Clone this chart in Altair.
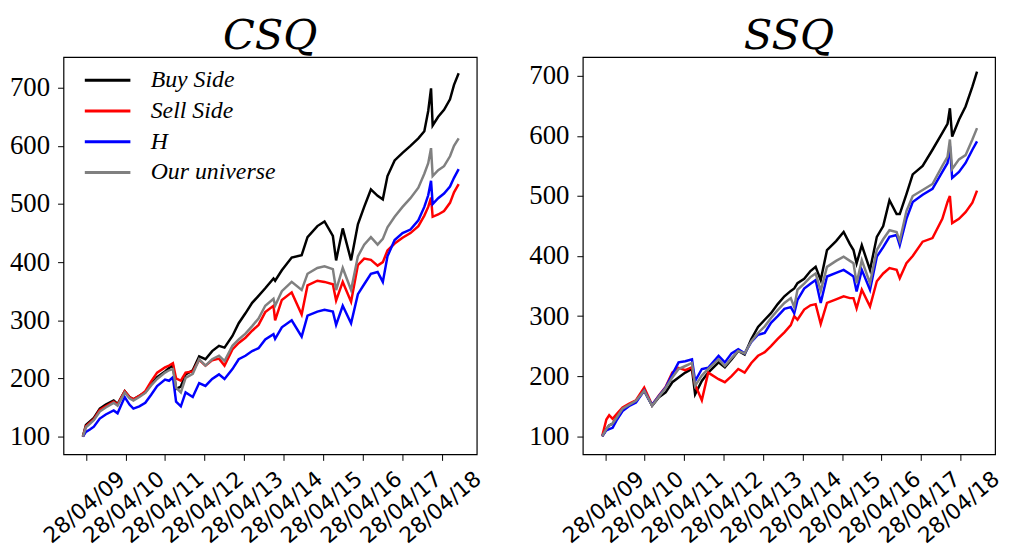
import altair as alt
import pandas as pd

series_names = ["Buy Side", "Sell Side", "H", "Our universe"]
series_colors = ["#000000", "#ff0000", "#0000ff", "#808080"]

# ---- CSQ panel ----
csq_dates = [
    "2009-03-31", "2009-04-28", "2009-06-04", "2009-07-10", "2009-09-03", "2009-10-28",
    "2010-01-09", "2010-02-14", "2010-04-21", "2010-06-04", "2010-07-10", "2010-09-03",
    "2010-10-28", "2010-12-21", "2011-02-14", "2011-04-28", "2011-06-04", "2011-07-10",
    "2011-08-08", "2011-09-21", "2011-11-04", "2012-01-09", "2012-03-08", "2012-05-05",
    "2012-07-06", "2012-09-07", "2012-10-28", "2013-01-09", "2013-03-08", "2013-05-09",
    "2013-07-10", "2013-09-07", "2013-11-08", "2014-01-23", "2014-02-07", "2014-04-10",
    "2014-07-10", "2014-10-10", "2014-12-03", "2015-03-04", "2015-05-09", "2015-07-25",
    "2015-08-24", "2015-10-24", "2016-01-09", "2016-03-12", "2016-05-09", "2016-07-10",
    "2016-09-10", "2016-10-28", "2016-12-10", "2017-02-14", "2017-04-28", "2017-07-10",
    "2017-09-21", "2017-11-15", "2017-12-21", "2018-01-16", "2018-01-31", "2018-03-23",
    "2018-05-16", "2018-07-10", "2018-08-16", "2018-09-28",
]
csq_buy = [100, 120, 126, 132, 148, 155, 162, 156, 178, 168, 164, 170, 176, 190, 202, 212,
           218, 222, 182, 186, 207, 214, 238, 233, 247, 256, 253, 273, 295, 312, 330, 342,
           355, 372, 368, 386, 408, 412, 443, 462, 470, 445, 403, 458, 403, 465, 495, 525,
           514, 508, 548, 575, 588, 600, 613, 625, 660, 699, 635, 650, 662, 680, 705, 725]
csq_sell = [100, 118, 124, 130, 146, 152, 160, 155, 178, 168, 164, 170, 178, 195, 210, 219,
            222, 226, 200, 196, 210, 212, 232, 222, 231, 234, 222, 250, 261, 270, 282, 292,
            314, 325, 300, 335, 348, 310, 360, 368, 366, 362, 334, 366, 332, 395, 406, 404,
            394, 400, 420, 432, 442, 450, 462, 480, 495, 511, 478, 482, 488, 502, 520, 534]
csq_h = [100, 108, 112, 117, 131, 138, 145, 140, 168, 155, 148, 152, 158, 172, 187, 198,
         196, 202, 160, 152, 176, 168, 192, 187, 199, 207, 199, 216, 233, 239, 247, 252,
         267, 276, 268, 288, 300, 272, 308, 315, 318, 315, 292, 325, 295, 345, 362, 380,
         383, 366, 410, 438, 450, 456, 472, 495, 515, 540, 500, 510, 518, 530, 545, 560]
csq_univ = [100, 116, 122, 128, 143, 150, 158, 153, 176, 166, 162, 168, 175, 188, 199, 210,
            214, 216, 184, 176, 201, 208, 233, 222, 233, 239, 230, 256, 267, 277, 290, 303,
            325, 337, 325, 350, 366, 352, 380, 390, 393, 388, 352, 390, 352, 410, 430, 443,
            430, 440, 460, 478, 495, 510, 528, 552, 570, 596, 548, 558, 565, 582, 600, 613]

# ---- SSQ panel ----
ssq_dates = [
    "2009-03-31", "2009-05-09", "2009-06-04", "2009-07-06", "2009-08-16", "2009-10-06",
    "2009-12-03", "2010-02-07", "2010-04-24", "2010-06-04", "2010-07-06", "2010-09-07",
    "2010-11-08", "2011-01-09", "2011-03-08", "2011-05-09", "2011-07-10", "2011-08-08",
    "2011-10-09", "2011-12-07", "2012-03-12", "2012-05-09", "2012-07-10", "2012-09-10",
    "2012-11-08", "2013-01-09", "2013-03-12", "2013-05-13", "2013-07-10", "2013-09-10",
    "2013-11-11", "2014-01-09", "2014-02-10", "2014-03-12", "2014-05-13", "2014-07-10",
    "2014-08-27", "2014-10-13", "2014-12-10", "2015-03-04", "2015-05-13", "2015-07-10",
    "2015-08-12", "2015-09-10", "2015-10-28", "2016-01-12", "2016-03-15", "2016-05-13",
    "2016-07-10", "2016-09-14", "2016-10-13", "2016-12-14", "2017-02-10", "2017-05-13",
    "2017-08-12", "2017-11-11", "2017-12-29", "2018-01-20", "2018-02-10", "2018-04-14",
    "2018-06-14", "2018-08-16", "2018-09-28",
]
ssq_buy = [100, 112, 118, 121, 132, 146, 152, 159, 176, 162, 151, 165, 173, 190, 198, 206,
           212, 170, 192, 206, 223, 215, 228, 242, 236, 262, 282, 294, 305, 320, 333, 342,
           346, 355, 362, 375, 382, 360, 410, 425, 440, 420, 410, 388, 418, 377, 432, 450,
           493, 470, 470, 503, 536, 550, 577, 605, 620, 646, 599, 627, 649, 682, 707]
ssq_sell = [100, 128, 135, 129, 138, 148, 154, 160, 181, 165, 152, 168, 182, 206, 214, 210,
            215, 186, 160, 206, 195, 190, 200, 212, 206, 222, 234, 240, 250, 262, 273, 285,
            300, 294, 311, 318, 320, 287, 322, 328, 333, 330, 330, 313, 344, 316, 358, 371,
            380, 377, 363, 388, 400, 424, 430, 462, 490, 500, 455, 462, 473, 489, 509]
ssq_h = [100, 110, 112, 114, 128, 142, 150, 156, 176, 162, 152, 167, 181, 203, 223, 225,
         228, 192, 212, 214, 234, 223, 238, 245, 238, 257, 269, 272, 289, 300, 312, 315,
         305, 327, 346, 354, 360, 322, 366, 372, 377, 370, 366, 341, 377, 344, 399, 415,
         432, 435, 418, 462, 490, 502, 512, 540, 555, 583, 530, 540, 555, 577, 591]
ssq_univ = [100, 112, 118, 121, 132, 146, 152, 159, 176, 162, 151, 166, 180, 198, 212, 217,
            222, 184, 201, 212, 228, 217, 230, 242, 238, 258, 272, 283, 297, 310, 322, 330,
            315, 344, 354, 365, 371, 342, 382, 392, 399, 392, 388, 355, 393, 355, 410, 428,
            443, 440, 425, 475, 500, 510, 520, 550, 565, 594, 545, 561, 568, 594, 613]

x_tick_years = [2009, 2010, 2011, 2012, 2013, 2014, 2015, 2016, 2017, 2018]
y_ticks = [100, 200, 300, 400, 500, 600, 700]

SERIF = "Liberation Serif"
TITLE_FONT = "DejaVu Serif"
SANS = "DejaVu Sans"


def panel_frame(dates, buy, sell, h, univ):
    rows = []
    for name, vals in zip(series_names, [buy, sell, h, univ]):
        for d, v in zip(dates, vals):
            rows.append({"date": d, "value": v, "series": name})
    return pd.DataFrame(rows)


def panel(df, title, ydomain, width):
    base = alt.Chart(df).mark_line(strokeWidth=2.5, clip=True).encode(
        x=alt.X(
            "date:T",
            title=None,
            scale=alt.Scale(domain=[alt.DateTime(year=2008, month=10, date=3),
                                    alt.DateTime(year=2019, month=3, date=14)]),
            axis=alt.Axis(
                values=[alt.DateTime(year=y, month=4, date=28) for y in x_tick_years],
                format="%d/%m/%y", labelAngle=320, labelAlign="center",
                labelBaseline="middle", labelPadding=47, labelOffset=-2,
                labelFont=SANS, labelFontSize=22, labelColor="black",
                labelOverlap=False, labelFlush=False, labelBound=False,
                tickSize=6, tickColor="black", grid=False, domain=False,
            ),
        ),
        y=alt.Y(
            "value:Q",
            title=None,
            scale=alt.Scale(domain=ydomain, nice=False, zero=False),
            axis=alt.Axis(
                values=y_ticks, labelFont=SERIF, labelFontSize=27, labelColor="black",
                labelPadding=8, tickSize=6, tickColor="black", grid=False, domain=False,
            ),
        ),
        color=alt.Color(
            "series:N",
            scale=alt.Scale(domain=series_names, range=series_colors),
            legend=alt.Legend(
                title=None, orient="none", legendX=20, legendY=8,
                symbolType="stroke", symbolSize=2116, symbolStrokeWidth=3,
                labelFont=SERIF, labelFontStyle="italic", labelFontSize=24,
                labelColor="black", labelOffset=19, clipHeight=31, rowPadding=0,
                padding=0, symbolOffset=0,
            ),
        ),
    )
    layers = [base.transform_filter(alt.datum.series == n) for n in series_names]
    return alt.layer(*layers).properties(
        width=width, height=401,
        title=alt.Title(title, font=TITLE_FONT, fontSize=42, fontStyle="italic",
                        fontWeight="normal", color="black", anchor="middle", offset=-1),
    )


left = panel(panel_frame(csq_dates, csq_buy, csq_sell, csq_h, csq_univ), "CSQ", [69.3, 752.8], 417)
right = panel(panel_frame(ssq_dates, ssq_buy, ssq_sell, ssq_h, ssq_univ), "SSQ", [69.8, 731.4], 416)

chart = alt.hconcat(left, right, spacing=107, bounds="flush").properties(
    padding={"left": 0, "top": 4, "right": 0, "bottom": 0}
).configure_view(stroke="black", strokeWidth=1.2)

chart.save("out.html", embed_options={"renderer": "svg", "actions": False})
